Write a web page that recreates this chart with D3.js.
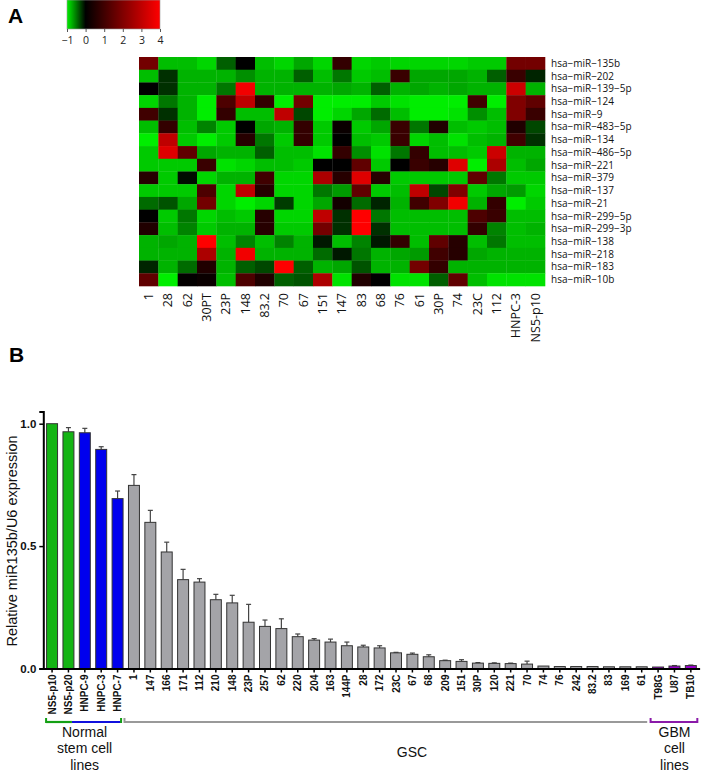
<!DOCTYPE html>
<html><head><meta charset="utf-8">
<script src="https://cdn.jsdelivr.net/npm/d3@7"></script>
<style>body{margin:0;background:#fff}svg{display:block}</style>
</head><body>
<svg id="c" width="701" height="772"></svg>
<script>
// ---------- Panel A data ----------
const heatRows = ["hsa−miR−135b","hsa−miR−202","hsa−miR−139−5p","hsa−miR−124","hsa−miR−9","hsa−miR−483−5p","hsa−miR−134","hsa−miR−486−5p","hsa−miR−221","hsa−miR−379","hsa−miR−137","hsa−miR−21","hsa−miR−299−5p","hsa−miR−299−3p","hsa−miR−138","hsa−miR−218","hsa−miR−183","hsa−miR−10b"];
const heatCols = ["1","28","62","30PT","23P","148","83.2","70","67","151","147","83","68","76","61","30P","74","23C","112","HNPC-3","NS5-p10"];
const heatValues = [
[1.8,-0.8,-0.8,-0.9,-0.4,0,-0.8,-0.9,-0.7,-0.9,0.8,-0.9,-0.85,-0.9,-0.9,-0.9,-0.9,-0.85,-0.85,1.8,1.8],
[-0.8,-0.2,-0.75,-0.75,-0.75,-0.6,-0.75,-0.75,-0.4,-0.8,-0.5,-0.85,-0.8,0.9,-0.7,-0.7,-0.7,-0.75,-0.4,0.9,-0.15],
[0,-0.2,-0.75,-0.75,-0.5,3.8,-0.75,-0.75,-0.75,-0.75,-0.7,-0.75,-0.4,-0.75,-0.7,-0.75,-0.7,-0.75,-0.75,3.2,-0.75],
[-0.9,-0.5,-0.75,-1,1.2,3.0,0.8,-1,1.8,-1,-1,-1,-0.85,-0.95,-1,-1,-1,1.0,-1,2.0,1.5],
[1.0,-0.2,-0.75,-1,0.8,-0.8,-0.8,3.0,-0.3,-1,-0.9,-0.7,-0.45,-0.8,-1,-1,-0.95,-0.6,-0.8,2.0,0.9],
[-0.8,0.8,-0.8,-0.55,-0.85,0,-0.7,-0.75,0.8,-0.85,0.15,-0.85,-0.7,0.9,-0.5,0.5,-0.8,-0.85,-0.8,0.5,-0.3],
[-1,3.0,-0.85,-1,-0.85,0.6,-0.5,-0.85,0.8,-0.85,0,-0.8,-0.85,0.9,-0.9,-0.8,-0.95,-0.8,-0.75,1.0,-0.2],
[-0.85,3.5,1.5,-0.7,-0.75,-0.75,-0.4,-0.8,-0.8,-0.95,0.8,-0.6,-0.95,-0.5,0.8,-0.8,-0.8,-0.85,3.2,-0.75,-0.75],
[-0.85,-0.85,-0.85,0.9,-0.95,-0.9,-0.8,-0.8,-0.85,0,0,1.5,-0.85,0,0.9,0.6,3.5,-1,2.7,-0.8,-0.7],
[0.6,-0.85,-0.05,-0.9,-0.75,-0.75,1.0,-0.9,-0.9,2.7,0.6,3.5,0.6,-0.85,-0.85,-0.85,-0.85,1.5,-0.5,-0.85,-0.85],
[-0.85,-0.85,-0.85,1.2,-0.9,3.0,0.6,-0.9,-0.9,-0.5,-0.65,1.5,-0.85,-0.8,3.0,-0.3,2.0,-0.85,-0.7,-0.65,-0.9],
[-0.45,-0.35,-0.7,1.8,-0.9,-1,-0.9,-0.25,-0.9,-0.7,0.3,-0.45,-0.15,-0.75,1.0,2.0,3.8,-0.75,0.8,-1,-0.85],
[0,-0.85,-0.5,-0.9,-0.8,-0.85,0.6,-0.9,-0.9,3.0,-0.2,4,-0.5,-0.8,-0.8,-0.8,-0.8,1.2,0.9,-0.8,-0.8],
[0.5,-0.8,-0.55,-0.85,-0.75,-0.75,0.6,-0.85,-0.85,1.8,-0.2,4,-0.2,-0.8,-0.8,-0.8,-0.8,0.8,-0.55,-0.8,-0.75],
[-0.75,-0.7,-0.75,4,-0.8,-0.55,-0.8,-0.55,-0.75,-0.1,-0.8,-0.55,-0.1,0.8,-0.8,1.5,0.6,-0.8,-0.5,-0.8,-0.8],
[-0.75,-0.75,-0.75,2.7,-0.75,3.8,-0.75,-0.75,-0.75,-0.45,-0.1,-0.5,-0.75,-0.7,-0.65,1.0,0.6,-0.7,-0.75,-0.75,-0.75],
[-0.15,-0.75,-0.45,0.5,-0.75,-0.4,-0.3,4,-0.4,-0.75,-0.7,-0.35,-0.75,-0.75,1.8,0.8,-0.75,-0.75,-0.75,-0.75,-0.75],
[1.5,-1,0.05,0.15,-0.8,1.2,0.5,-0.4,-0.35,2.7,-0.95,0.5,0,-0.95,-0.95,-0.4,1.5,-0.8,-0.95,-0.95,-0.95]
];
const legendTicks = [-1,0,1,2,3,4];

// ---------- Panel B data ----------
const barLabels = ["NS5-p10","NS5-p20","HNPC-9","HNPC-3","HNPC-7","1","147","166","171","112","210","148","23P","257","62","220","204","163","144P","28","172","23C","67","68","209","151","30P","120","221","70","74","76","242","83.2","83","169","61","T98G","U87","TB10"];
const barValues = [1.0,0.967,0.963,0.895,0.694,0.748,0.597,0.476,0.363,0.353,0.281,0.268,0.189,0.172,0.163,0.130,0.116,0.108,0.093,0.088,0.084,0.064,0.058,0.048,0.032,0.029,0.022,0.021,0.020,0.018,0.010,0.008,0.008,0.008,0.007,0.007,0.007,0.006,0.010,0.012];
const barErrors = [0,0.017,0.018,0.011,0.031,0.044,0.049,0.040,0.042,0.014,0.022,0.031,0.073,0.026,0.040,0.011,0.006,0.012,0.015,0.007,0.009,0.002,0.005,0.008,0.002,0.007,0.002,0.002,0.002,0.012,0.001,0.001,0.001,0.001,0.001,0.001,0.001,0.001,0.002,0.002];
const barGroups = ["normal","normal","hnpc","hnpc","hnpc"].concat(Array(32).fill("gsc"), ["gbm","gbm","gbm"]);
const yTicks = [0,0.5,1.0];

const svg = d3.select("#c");

// ---------- Panel A ----------
svg.append("text").attr("x",8).attr("y",23).attr("font-family","Liberation Sans, Arial").attr("font-weight","bold").attr("font-size",21).text("A");

const color = d3.scaleLinear().domain([-1,0,4]).range(["#00ee00","#000000","#ff0000"]);

// legend
const lx = d3.scaleLinear().domain([-1,4]).range([67,160]);
const defs = svg.append("defs");
const grad = defs.append("linearGradient").attr("id","lg");
d3.range(0,1.0001,0.05).forEach(t=>{
  grad.append("stop").attr("offset",t).attr("stop-color",color(-1+5*t));
});
svg.append("rect").attr("x",lx(-1)).attr("y",0).attr("width",lx(4)-lx(-1)).attr("height",29).attr("fill","url(#lg)").attr("stroke","#999").attr("stroke-width",0.6);
const lg = svg.append("g").attr("transform","translate(0,29)")
  .call(d3.axisBottom(lx).tickValues(legendTicks).tickSize(3).tickFormat(d=>d<0?"−"+Math.abs(d):d));
lg.select(".domain").remove();
lg.selectAll("line").attr("stroke","#555");
lg.selectAll("text").attr("font-family","Open Sans, sans-serif").attr("font-size",10.5).attr("fill","#222").attr("dy","0.9em");

// heatmap
const hx = d3.scaleBand().domain(heatCols).range([139,545]);
const hy = d3.scaleBand().domain(heatRows).range([57,286]);
const hg = svg.append("g");
heatValues.forEach((row,i)=>{
  row.forEach((v,j)=>{
    hg.append("rect").attr("x",hx(heatCols[j])).attr("y",hy(heatRows[i]))
      .attr("width",hx.bandwidth()+0.3).attr("height",hy.bandwidth()+0.3).attr("fill",color(v));
  });
});
svg.append("g").selectAll("text").data(heatRows).join("text")
  .attr("x",551).attr("y",d=>hy(d)+hy.bandwidth()/2).attr("dy","0.35em")
  .attr("font-family","Open Sans, sans-serif").attr("font-size",10).attr("fill","#111").text(d=>d);
svg.append("g").selectAll("text").data(heatCols).join("text")
  .attr("transform",d=>`translate(${hx(d)+hx.bandwidth()/2},293) rotate(-90)`)
  .attr("text-anchor","end").attr("dy","0.35em")
  .attr("font-family","Open Sans, sans-serif").attr("font-size",12.5).attr("fill","#111").text(d=>d);

// ---------- Panel B ----------
svg.append("text").attr("x",9).attr("y",362).attr("font-family","Liberation Sans, Arial").attr("font-weight","bold").attr("font-size",21).text("B");

const x = d3.scaleBand().domain(barLabels).range([43.3,699.6]).paddingInner(0.33).paddingOuter(0.2);
const y = d3.scaleLinear().domain([0,1]).range([668.5,423.7]);
const groupColor = {normal:"#14b414",hnpc:"#0000ee",gsc:"#a4a4a8",gbm:"#9a00cc"};

const bg = svg.append("g");
// error bars
barLabels.forEach((d,i)=>{
  if(barErrors[i]<=0.0015) return;
  const cx = x(d)+x.bandwidth()/2;
  bg.append("line").attr("x1",cx).attr("x2",cx).attr("y1",y(barValues[i])).attr("y2",y(barValues[i]+barErrors[i])).attr("stroke","#444").attr("stroke-width",1.2);
  bg.append("line").attr("x1",cx-2.5).attr("x2",cx+2.5).attr("y1",y(barValues[i]+barErrors[i])).attr("y2",y(barValues[i]+barErrors[i])).attr("stroke","#444").attr("stroke-width",1.2);
});
bg.selectAll("rect").data(barLabels).join("rect")
  .attr("x",d=>x(d)).attr("width",x.bandwidth())
  .attr("y",(d,i)=>y(barValues[i])).attr("height",(d,i)=>y(0)-y(barValues[i]))
  .attr("fill",(d,i)=>groupColor[barGroups[i]]).attr("stroke","#333").attr("stroke-width",1);

// y axis
const ya = svg.append("g").attr("transform","translate(43.3,0)")
  .call(d3.axisLeft(y.copy().domain([0,1.05]).range([668.5,668.5-1.05*244.8])).tickValues(yTicks).tickSize(4).tickFormat(d3.format(".1f")));
ya.select(".domain").attr("stroke","#000").attr("stroke-width",2);
ya.selectAll("line").attr("stroke","#000").attr("stroke-width",1.5);
ya.selectAll("text").attr("font-family","Liberation Sans, Arial").attr("font-weight","bold").attr("font-size",11.5).attr("fill","#111");

// x axis
const xa = svg.append("g").attr("transform","translate(0,668.5)")
  .call(d3.axisBottom(x).tickSize(4).tickSizeOuter(0));
xa.select(".domain").attr("stroke","#000").attr("stroke-width",2);
xa.selectAll("line").attr("stroke","#000").attr("stroke-width",1.5);
xa.selectAll("text").attr("transform","rotate(-90)").attr("text-anchor","end")
  .attr("x",-6).attr("y",0).attr("dy","0.35em")
  .attr("font-family","Liberation Sans, Arial").attr("font-weight","bold").attr("font-size",10).attr("fill","#111");

// y label
svg.append("text").attr("transform","translate(17,541) rotate(-90)").attr("text-anchor","middle")
  .attr("font-family","Liberation Sans, Arial").attr("font-size",14.5).attr("fill","#111").text("Relative miR135b/U6 expression");

// group brackets
const by = 722;
const bw = x.bandwidth();
function bracket(x1,x2,col,leftTick,rightTick){
  svg.append("line").attr("x1",x1).attr("x2",x2).attr("y1",by).attr("y2",by).attr("stroke",col).attr("stroke-width",2.2);
  if(leftTick) svg.append("line").attr("x1",x1).attr("x2",x1).attr("y1",by-4).attr("y2",by+1).attr("stroke",col).attr("stroke-width",2);
  if(rightTick) svg.append("line").attr("x1",x2).attr("x2",x2).attr("y1",by-4).attr("y2",by+1).attr("stroke",col).attr("stroke-width",2);
}
const nL = x("NS5-p10")-0.5, nM = x("NS5-p20")+bw-2, nR = x("HNPC-7")+bw-2;
bracket(nM, nR, "#1010dd", false, false);
bracket(nL, nM, "#14a014", true, false);
svg.append("line").attr("x1",nR).attr("x2",nR).attr("y1",by-4).attr("y2",by+1).attr("stroke","#14a014").attr("stroke-width",2);
bracket(x("1")-4, x("61")+bw, "#999", true, false);
bracket(x("T98G")-2, x("TB10")+bw+1, "#8a1aa8", true, true);

function groupText(cx, lines){
  lines.forEach((t,k)=>{
    svg.append("text").attr("x",cx).attr("y",737+k*16.3).attr("text-anchor","middle")
      .attr("font-family","Liberation Sans, Arial").attr("font-size",14).attr("fill","#111").text(t);
  });
}
groupText((nL+nR)/2+1, ["Normal","stem cell","lines"]);
svg.append("text").attr("x",412).attr("y",757).attr("text-anchor","middle")
  .attr("font-family","Liberation Sans, Arial").attr("font-size",14).attr("fill","#111").text("GSC");
groupText((x("T98G")+x("TB10")+bw)/2, ["GBM","cell","lines"]);
</script>
</body></html>
